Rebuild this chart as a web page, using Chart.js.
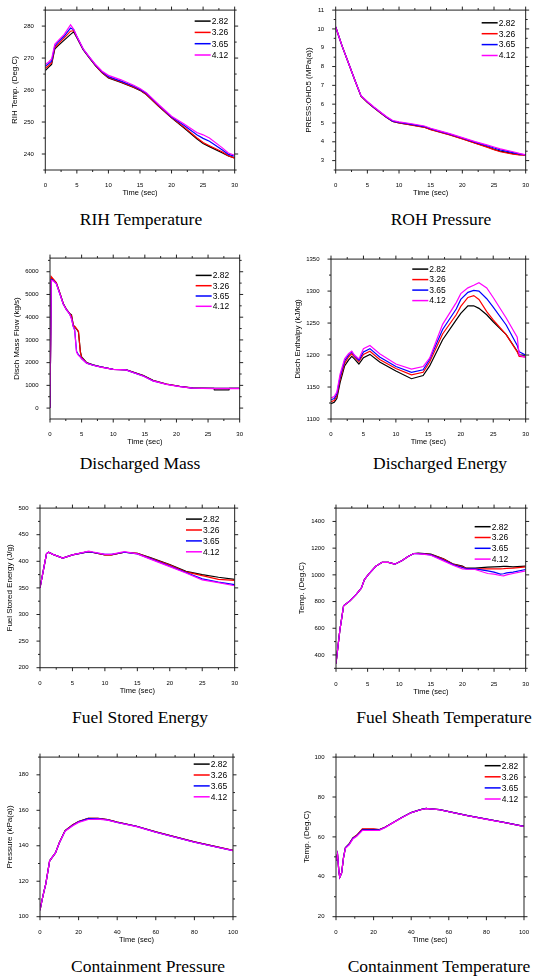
<!DOCTYPE html>
<html>
<head>
<meta charset="utf-8">
<script src="https://cdn.jsdelivr.net/npm/chart.js@4.4.1/dist/chart.umd.min.js"></script>
<style>
  body { margin: 0; background: #fff; width: 533px; height: 978px; position: relative; overflow: hidden; }
  .cv { position: absolute; }
  .cap { position: absolute; font-family: 'Liberation Serif', 'Times New Roman', serif; font-size: 17.5px; line-height: 17.5px; white-space: nowrap; transform: translateX(-50%); color: #000; }
</style>
</head>
<body>
<script>
// series shared by all eight plots
const seriesNames = ['2.82', '3.26', '3.65', '4.12'];
const seriesColors = ['#000000', '#ff0000', '#0000ff', '#ff00ff'];

// RIH temperature
const rihTime = [0, 0.5, 1, 1.5, 2, 3, 4, 4.5, 5, 6, 7, 8, 9, 10, 12, 14, 15, 16, 18, 20, 22, 24, 25, 26, 28, 29, 30];
const rih282 = [266.1, 267.1, 268, 272.8, 273.8, 275.6, 277.4, 278.2, 276.4, 272.6, 270, 267.5, 265.4, 263.8, 262.4, 260.8, 259.9, 258.6, 254.8, 251.3, 248.1, 244.8, 243.3, 242.3, 240.4, 239.4, 238.8];
const rih326 = [266.8, 267.6, 268.5, 273.2, 274.3, 276.3, 278.4, 278.6, 276.5, 272.7, 270.1, 267.6, 265.5, 263.9, 262.5, 260.9, 260, 258.7, 254.9, 251.4, 248.4, 245.1, 243.6, 242.6, 240.7, 239.5, 238.7];
const rih365 = [267.4, 268.2, 269, 273.7, 274.9, 276.9, 279.4, 278.9, 276.7, 272.8, 270.2, 267.7, 265.7, 264.2, 262.8, 261.2, 260.2, 259, 255.2, 251.6, 248.9, 246, 244.9, 244, 241.3, 239.9, 239.3];
const rih412 = [268.1, 268.7, 269.7, 274.3, 275.4, 277.4, 280.4, 279, 276.8, 272.9, 270.3, 267.9, 265.9, 264.6, 263.2, 261.5, 260.5, 259.2, 255.4, 251.8, 249.4, 246.7, 246, 245, 242, 240.3, 239.6];

// ROH pressure
const rohTime = [0, 0.5, 1, 2, 3, 4, 5, 6, 7, 8, 9, 10, 12, 14, 15, 16, 18, 20, 22, 24, 25, 26, 28, 29, 30];
const roh282 = [10.1, 9.6, 9.1, 8.2, 7.3, 6.42, 6.1, 5.82, 5.56, 5.3, 5.08, 5.0, 4.9, 4.78, 4.66, 4.56, 4.38, 4.17, 3.94, 3.72, 3.6, 3.5, 3.37, 3.32, 3.3];
const roh326 = [10.1, 9.6, 9.1, 8.2, 7.3, 6.42, 6.1, 5.82, 5.56, 5.3, 5.08, 5.0, 4.89, 4.77, 4.65, 4.55, 4.37, 4.15, 3.92, 3.7, 3.58, 3.47, 3.34, 3.3, 3.29];
const roh365 = [10.1, 9.6, 9.1, 8.2, 7.3, 6.44, 6.12, 5.84, 5.58, 5.32, 5.1, 5.03, 4.93, 4.81, 4.69, 4.59, 4.41, 4.2, 3.98, 3.78, 3.67, 3.57, 3.42, 3.35, 3.3];
const roh412 = [10.1, 9.6, 9.1, 8.2, 7.3, 6.45, 6.14, 5.86, 5.6, 5.34, 5.13, 5.06, 4.96, 4.84, 4.72, 4.62, 4.43, 4.22, 4.01, 3.82, 3.72, 3.62, 3.47, 3.38, 3.3];

// discharged mass flow
const massTime = [0, 0.2, 0.5, 1, 1.6, 2.1, 2.6, 3.1, 3.4, 3.7, 3.9, 4.2, 4.5, 4.8, 5, 5.8, 6.8, 8, 10, 12, 13, 14.7, 16.3, 18.4, 20.5, 22.5, 25.9, 26, 28.3, 28.4, 30];
const mass282 = [0, 5740, 5650, 5500, 5020, 4590, 4350, 4160, 4100, 3620, 3580, 3480, 3350, 2500, 2250, 2000, 1900, 1820, 1710, 1690, 1600, 1440, 1220, 1060, 960, 890, 870, 800, 800, 870, 870];
const mass326 = [0, 5780, 5680, 5520, 5030, 4600, 4340, 4170, 4060, 3640, 3600, 3500, 3380, 2450, 2230, 1990, 1895, 1815, 1705, 1685, 1595, 1435, 1215, 1055, 955, 880, 865, 865, 865, 865, 865];
const mass365 = [0, 5650, 5620, 5480, 5000, 4580, 4330, 4150, 3950, 3580, 3450, 2500, 2350, 2260, 2180, 1980, 1890, 1810, 1700, 1680, 1580, 1420, 1200, 1050, 950, 880, 865, 865, 865, 865, 865];
const mass412 = [0, 5620, 5600, 5470, 4990, 4570, 4320, 4140, 3920, 3560, 3420, 2450, 2320, 2240, 2170, 1975, 1885, 1805, 1700, 1680, 1575, 1415, 1195, 1045, 945, 875, 860, 860, 860, 860, 860];

// discharged enthalpy
const enthTime = [0, 0.5, 0.9, 1.4, 2.1, 2.7, 3.2, 3.6, 4.3, 5, 6, 7.5, 10, 12.4, 14.2, 15.2, 17.2, 19.3, 20, 21.1, 22, 22.8, 24, 25, 27, 28.7, 29, 30];
const enth282 = [1124, 1126, 1132, 1157, 1183, 1192, 1198, 1194, 1186, 1196, 1201, 1189, 1175, 1163, 1168, 1183, 1224, 1255, 1265, 1277, 1277, 1273, 1263, 1252, 1232, 1206, 1200, 1200];
const enth326 = [1127, 1129, 1136, 1162, 1187, 1197, 1202, 1197, 1190, 1201, 1206, 1193, 1179, 1169, 1173, 1189, 1233, 1263, 1276, 1290, 1293, 1287, 1268, 1255, 1232, 1205, 1198, 1197];
const enth365 = [1130, 1132, 1139, 1166, 1191, 1200, 1205, 1199, 1192, 1205, 1210, 1197, 1182, 1173, 1177, 1193, 1240, 1272, 1287, 1298, 1301, 1300, 1288, 1275, 1247, 1215, 1205, 1200];
const enth412 = [1133, 1135, 1142, 1170, 1194, 1202, 1206, 1200, 1194, 1210, 1215, 1202, 1186, 1178, 1182, 1195, 1248, 1282, 1296, 1305, 1309, 1313, 1305, 1290, 1258, 1228, 1200, 1196];

// fuel stored energy
const fuelTime = [0, 1, 1.3, 2, 3.5, 5, 7.5, 8, 10, 11, 13, 15, 17, 20, 22.5, 25, 27.5, 30];
const fuel282 = [350, 414, 417, 413, 406, 412, 418, 417, 412, 412, 417, 415, 407, 394, 381, 375, 370, 366];
const fuel326 = [350, 414, 417, 413, 406, 412, 418, 417, 412, 412, 417, 415, 406, 393, 380, 373, 366, 364];
const fuel365 = [350, 414, 417, 413, 406, 412, 418, 417, 413, 413, 417, 414, 405, 391, 379, 367, 361, 356];
const fuel412 = [350, 414, 417, 413, 406, 412, 419, 418, 413, 413, 418, 414, 404, 390, 378, 365, 360, 354];

// fuel sheath temperature
const sheathTime = [0, 0.6, 1.2, 2.2, 3.2, 4, 4.5, 5.2, 6.3, 7.3, 8.3, 9.3, 10.4, 11.4, 12.3, 13, 14, 15, 17, 18.6, 20, 20.6, 22, 24, 25, 26, 26.5, 27, 28, 30];
const sheath282 = [336, 582, 768, 805, 854, 900, 965, 1007, 1064, 1094, 1094, 1080, 1106, 1138, 1160, 1162, 1160, 1155, 1120, 1080, 1065, 1050, 1050, 1058, 1060, 1062, 1063, 1063, 1060, 1065];
const sheath326 = [336, 582, 768, 805, 854, 900, 965, 1007, 1064, 1094, 1094, 1080, 1106, 1138, 1160, 1160, 1158, 1152, 1118, 1078, 1060, 1048, 1045, 1045, 1045, 1045, 1046, 1048, 1050, 1060];
const sheath365 = [336, 582, 768, 805, 854, 900, 965, 1007, 1064, 1094, 1094, 1080, 1106, 1138, 1160, 1158, 1155, 1150, 1110, 1075, 1055, 1045, 1045, 1030, 1020, 1005, 1008, 1015, 1020, 1040];
const sheath412 = [336, 582, 768, 805, 854, 900, 965, 1007, 1064, 1094, 1094, 1080, 1106, 1138, 1160, 1157, 1153, 1147, 1105, 1070, 1045, 1042, 1040, 1010, 1005, 995, 992, 1000, 1010, 1030];

// containment pressure
const cpTime = [0, 1, 2, 3, 5, 8, 10, 13, 17, 20, 25, 30, 35, 40, 50, 60, 70, 80, 90, 100];
const cp282 = [103.7, 109, 114, 118.5, 131.5, 136, 141.7, 148.5, 151.8, 153.7, 155.4, 155.4, 154.7, 153.3, 151, 147.8, 145, 142.2, 139.8, 137.4];
const cp326 = [103.7, 109, 114, 118.5, 131.5, 136, 141.7, 148.5, 151.8, 153.7, 155.5, 155.5, 154.7, 153.3, 151, 147.8, 145, 142.2, 139.8, 137.4];
const cp365 = [103.7, 109, 114, 118.5, 131.5, 136, 141.6, 148.4, 151.6, 153.5, 155.3, 155.3, 154.6, 153.2, 150.9, 147.7, 144.9, 142.1, 139.7, 137.3];
const cp412 = [103.7, 109, 114, 118.5, 131.5, 136, 141.5, 148.2, 151.3, 153.2, 154.8, 155, 154.5, 153.1, 150.8, 147.6, 144.8, 142, 139.6, 137.2];

// containment temperature
const ctTime = [0, 0.8, 1.5, 2, 3, 4, 5, 7, 9, 11, 14, 20, 23, 26, 30, 35, 40, 45, 48, 50, 55, 60, 70, 80, 90, 100];
const ct282 = [48, 51.3, 43, 39.8, 42, 49.6, 54.6, 56.5, 59.5, 60.8, 63.8, 63.8, 63.6, 64.8, 67, 69.7, 72.2, 73.7, 74.3, 74, 73.7, 72.7, 70.7, 68.9, 67.2, 65.3];
const ct326 = [48, 51.3, 43, 39.8, 42, 49.6, 54.6, 56.5, 59.5, 60.8, 64, 64, 63.7, 64.8, 67, 69.7, 72.2, 73.7, 74.3, 74, 73.7, 72.7, 70.7, 68.9, 67.2, 65.3];
const ct365 = [48, 51.3, 43, 39.8, 42, 49.6, 54.5, 56.3, 59.3, 60.5, 63.5, 63.5, 63.5, 64.7, 67, 69.7, 72.2, 73.7, 74.3, 74, 73.7, 72.7, 70.7, 68.9, 67.2, 65.3];
const ct412 = [48, 51.3, 43, 39.8, 42, 49.6, 54.3, 56, 59, 60.3, 63.2, 63.2, 63.3, 64.6, 66.9, 69.6, 72.1, 73.6, 74.2, 74, 73.6, 72.6, 70.6, 68.8, 67.1, 65.2];

// axis tick labels
const time30Ticks = [0, 5, 10, 15, 20, 25, 30];
const time100Ticks = [0, 20, 40, 60, 80, 100];
const rihTicks = [240, 250, 260, 270, 280];
const rohTicks = [3, 4, 5, 6, 7, 8, 9, 10, 11];
const massTicks = [0, 1000, 2000, 3000, 4000, 5000, 6000];
const enthTicks = [1100, 1150, 1200, 1250, 1300, 1350];
const fuelTicks = [200, 250, 300, 350, 400, 450, 500];
const sheathTicks = [400, 600, 800, 1000, 1200, 1400];
const cpTicks = [100, 120, 140, 160, 180];
const ctTicks = [20, 40, 60, 80, 100];

const captions = ['RIH Temperature', 'ROH Pressure', 'Discharged Mass', 'Discharged Energy',
  'Fuel Stored Energy', 'Fuel Sheath Temperature', 'Containment Pressure', 'Containment Temperature'];

// layout of each plot (plot box in page pixels, y title centre, legend spot)
const panels = [
  { time: rihTime, series: [rih282, rih326, rih365, rih412], xTicks: time30Ticks, yTicks: rihTicks,
    x: [0, 30], y: [235, 285], yTitle: 'RIH Temp. (Deg.C)',
    box: { l: 45.3, t: 7.3, r: 236, b: 170 }, titleX: 15, leg: { dx: -40, dy: 11, gap: 11.3 }, cap: [141, 220] },
  { time: rohTime, series: [roh282, roh326, roh365, roh412], xTicks: time30Ticks, yTicks: rohTicks,
    x: [0, 30], y: [2.5, 11], yTitle: 'PRESS:OHD5 (MPa(a))',
    box: { l: 335.7, t: 7.3, r: 531, b: 170 }, titleX: 309, leg: { dx: -44, dy: 12.7, gap: 10.9 }, cap: [441, 220] },
  { time: massTime, series: [mass282, mass326, mass365, mass412], xTicks: time30Ticks, yTicks: massTicks,
    x: [0, 30], y: [-480, 6600], yTitle: 'Disch Mass Flow (kg/s)',
    box: { l: 50, t: 255, r: 240.7, b: 419 }, titleX: 17, leg: { dx: -44, dy: 17.3, gap: 10.3 }, cap: [140, 464] },
  { time: enthTime, series: [enth282, enth326, enth365, enth412], xTicks: time30Ticks, yTicks: enthTicks,
    x: [0, 30], y: [1100, 1350], yTitle: 'Disch Enthalpy (kJ/kg)',
    box: { l: 331, t: 256.7, r: 526.7, b: 419 }, titleX: 298, leg: { dx: -113.4, dy: 10, gap: 10.5 }, cap: [440, 464] },
  { time: fuelTime, series: [fuel282, fuel326, fuel365, fuel412], xTicks: time30Ticks, yTicks: fuelTicks,
    x: [0, 30], y: [200, 500], yTitle: 'Fuel Stored Energy (J/g)',
    box: { l: 40, t: 505.7, r: 236, b: 667.7 }, titleX: 10, leg: { dx: -48.7, dy: 11, gap: 10.9 }, cap: [140, 718] },
  { time: sheathTime, series: [sheath282, sheath326, sheath365, sheath412], xTicks: time30Ticks, yTicks: sheathTicks,
    x: [0, 30], y: [300, 1500], yTitle: 'Temp. (Deg.C)',
    box: { l: 336, t: 505.7, r: 531, b: 668.3 }, titleX: 302, leg: { dx: -51, dy: 18.6, gap: 10.8 }, cap: [444, 718] },
  { time: cpTime, series: [cp282, cp326, cp365, cp412], xTicks: time100Ticks, yTicks: cpTicks,
    x: [0, 100], y: [100, 190], yTitle: 'Pressure (kPa(a))',
    box: { l: 40, t: 754.7, r: 236, b: 916.7 }, titleX: 10, leg: { dx: -39.3, dy: 7, gap: 10.9 }, cap: [148, 967] },
  { time: ctTime, series: [ct282, ct326, ct365, ct412], xTicks: time100Ticks, yTicks: ctTicks,
    x: [0, 100], y: [20, 100], yTitle: 'Temp. (Deg.C)',
    box: { l: 336, t: 754.7, r: 531, b: 916.7 }, titleX: 306.7, leg: { dx: -39.3, dy: 8.6, gap: 11.1 }, cap: [439, 967] }
];

const sans = "'Liberation Sans', Arial, sans-serif";
Chart.defaults.font.family = sans;
Chart.defaults.color = '#000';

// major + half-step minor positions inside [lo, hi]
function tickMarks(ticks, lo, hi) {
  const step = ticks[1] - ticks[0];
  const out = [];
  for (let v = ticks[0] - step / 2; v >= lo - 1e-9; v -= step) out.push([v, 2]);
  ticks.forEach(t => {
    out.push([t, 3.5]);
    if (t + step / 2 <= hi + 1e-9) out.push([t + step / 2, 2]);
  });
  return out;
}

// box round the plot, ticks on all four sides, legend inside
const frame = {
  id: 'frame',
  afterDraw(chart, args, o) {
    const ctx = chart.ctx, a = chart.chartArea;
    const sx = chart.scales.x, sy = chart.scales.y;
    ctx.save();
    ctx.strokeStyle = '#222';
    ctx.lineWidth = 1;
    ctx.strokeRect(a.left, a.top, a.right - a.left, a.bottom - a.top);
    ctx.beginPath();
    tickMarks(o.xTicks, sx.min, sx.max).forEach(([v, len]) => {
      const px = sx.getPixelForValue(v);
      ctx.moveTo(px, a.bottom); ctx.lineTo(px, a.bottom + len);
      ctx.moveTo(px, a.top); ctx.lineTo(px, a.top - len);
    });
    tickMarks(o.yTicks, sy.min, sy.max).forEach(([v, len]) => {
      const py = sy.getPixelForValue(v);
      ctx.moveTo(a.left, py); ctx.lineTo(a.left - len, py);
      ctx.moveTo(a.right, py); ctx.lineTo(a.right + len, py);
    });
    ctx.stroke();

    const lg = o.leg;
    ctx.font = '8.5px ' + sans;
    ctx.textAlign = 'left';
    ctx.textBaseline = 'middle';
    seriesNames.forEach((n, i) => {
      const y = a.top + lg.dy + i * lg.gap;
      const x0 = a.right + lg.dx;
      ctx.strokeStyle = seriesColors[i];
      ctx.lineWidth = 1.5;
      ctx.beginPath();
      ctx.moveTo(x0, y); ctx.lineTo(x0 + 16, y);
      ctx.stroke();
      ctx.fillStyle = '#000';
      ctx.fillText(n, x0 + 17, y + 0.5);
    });
    ctx.restore();
  }
};

panels.forEach(p => {
  const L = Math.round(p.titleX - 4.8);
  const T = Math.floor(p.box.t) - 4;
  const R = Math.min(533, Math.ceil(p.box.r) + 6);
  const B = Math.ceil(p.box.b + 26.8);
  const yw = p.box.l - L, xh = B - p.box.b;

  const cv = document.createElement('canvas');
  cv.className = 'cv';
  cv.width = R - L;
  cv.height = B - T;
  cv.style.left = L + 'px';
  cv.style.top = T + 'px';
  document.body.appendChild(cv);

  new Chart(cv, {
    type: 'line',
    data: {
      datasets: p.series.map((s, i) => ({
        label: seriesNames[i],
        data: p.time.map((t, j) => ({ x: t, y: s[j] })),
        borderColor: seriesColors[i],
        borderWidth: 1.2,
        pointRadius: 0,
        tension: 0,
        fill: false,
        order: 3 - i
      }))
    },
    options: {
      responsive: false,
      animation: false,
      events: [],
      layout: { autoPadding: false, padding: { top: p.box.t - T, right: R - p.box.r, left: 0, bottom: 0 } },
      plugins: {
        legend: { display: false },
        tooltip: { enabled: false },
        frame: { xTicks: p.xTicks, yTicks: p.yTicks, leg: p.leg }
      },
      scales: {
        x: {
          type: 'linear', min: p.x[0], max: p.x[1],
          grid: { display: false }, border: { display: false },
          afterBuildTicks: s => { s.ticks = p.xTicks.map(v => ({ value: v })); },
          ticks: { autoSkip: false, maxRotation: 0, padding: 4, font: { size: 6 }, callback: v => String(v) },
          title: { display: true, text: 'Time (sec)', font: { size: 7.5 }, padding: 0 },
          afterFit: s => { s.height = xh; }
        },
        y: {
          type: 'linear', min: p.y[0], max: p.y[1],
          grid: { display: false }, border: { display: false },
          afterBuildTicks: s => { s.ticks = p.yTicks.map(v => ({ value: v })); },
          ticks: { autoSkip: false, padding: 3.5, font: { size: 6 }, callback: v => String(v) },
          title: { display: true, text: p.yTitle, font: { size: 8 }, padding: 0 },
          afterFit: s => { s.width = yw; }
        }
      }
    },
    plugins: [frame]
  });

  const cap = document.createElement('div');
  cap.className = 'cap';
  cap.textContent = captions[panels.indexOf(p)];
  cap.style.left = p.cap[0] + 'px';
  cap.style.top = (p.cap[1] - 8.9) + 'px';
  document.body.appendChild(cap);
});
</script>
</body>
</html>
